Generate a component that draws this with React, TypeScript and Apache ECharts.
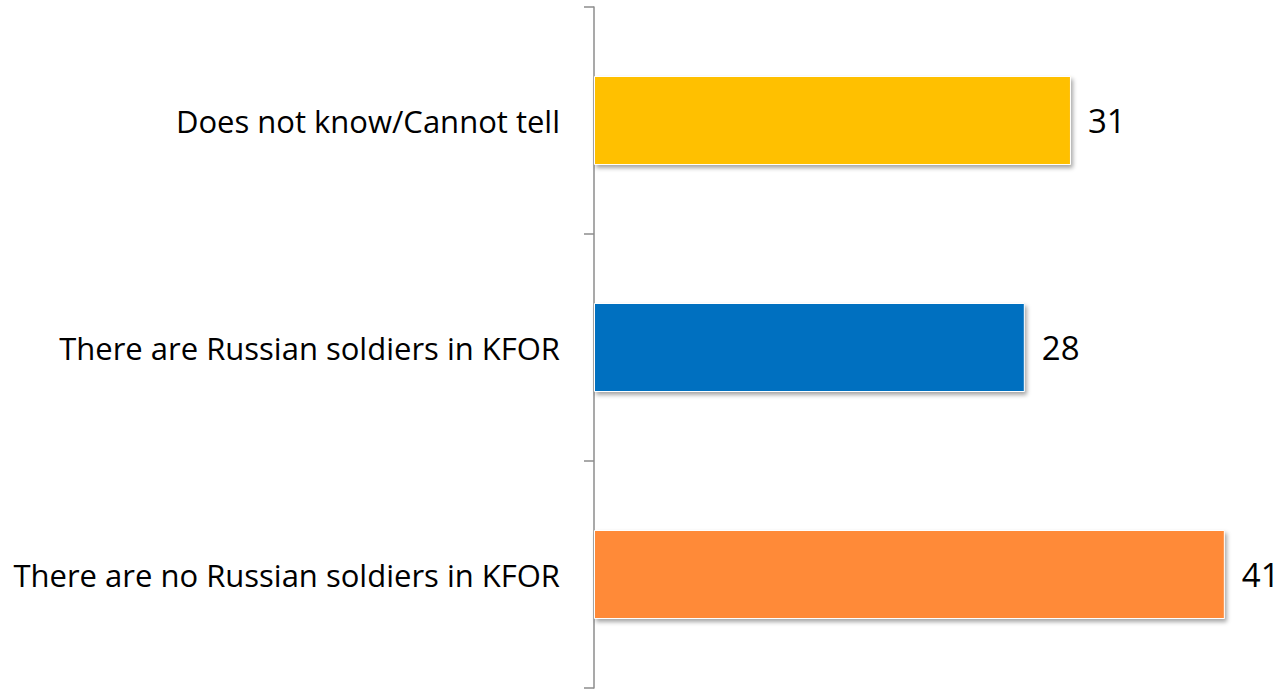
import React, { useEffect, useRef } from "react";
import * as echarts from "echarts";

const categories = [
  "There are no Russian soldiers in KFOR",
  "There are Russian soldiers in KFOR",
  "Does not know/Cannot tell",
];
const values = [41, 28, 31];
const colors = ["#FF8A38", "#0070C0", "#FFC000"];

export default function App() {
  const ref = useRef<HTMLDivElement>(null);
  useEffect(() => {
    document.body.style.margin = "0";
    const chart = echarts.init(ref.current!, null, { renderer: "svg" });
    chart.setOption({
      animation: false,
      backgroundColor: "#ffffff",
      grid: { left: 594, right: 13, top: 7, bottom: 2, containLabel: false },
      xAxis: {
        type: "value",
        min: 0,
        max: 44,
        show: false,
      },
      yAxis: {
        type: "category",
        data: categories,
        axisLine: { show: true, lineStyle: { color: "#8c8c8c", width: 1.5 } },
        axisTick: { show: true, inside: false, length: 10, lineStyle: { color: "#8c8c8c", width: 1.5 } },
        axisLabel: {
          margin: 34,
          fontSize: 31,
          fontFamily: "Open Sans",
          color: "#000",
        },
        splitLine: { show: false },
      },
      series: [
        {
          type: "bar",
          data: values.map((v, i) => ({ value: v, itemStyle: { color: colors[i] } })),
          barWidth: 89,
          itemStyle: {
            borderColor: "#ffffff",
            borderWidth: 1,
            shadowColor: "rgba(0,0,0,0.35)",
            shadowBlur: 4,
            shadowOffsetX: 2,
            shadowOffsetY: 3,
          },
          label: {
            show: true,
            position: "right",
            distance: 17,
            fontSize: 33,
            fontFamily: "Open Sans",
            color: "#000",
          },
        },
      ],
    });
    return () => chart.dispose();
  }, []);
  return (
    <div
      ref={ref}
      style={{ position: "absolute", left: 0, top: 0, width: 1284, height: 690 }}
    />
  );
}
